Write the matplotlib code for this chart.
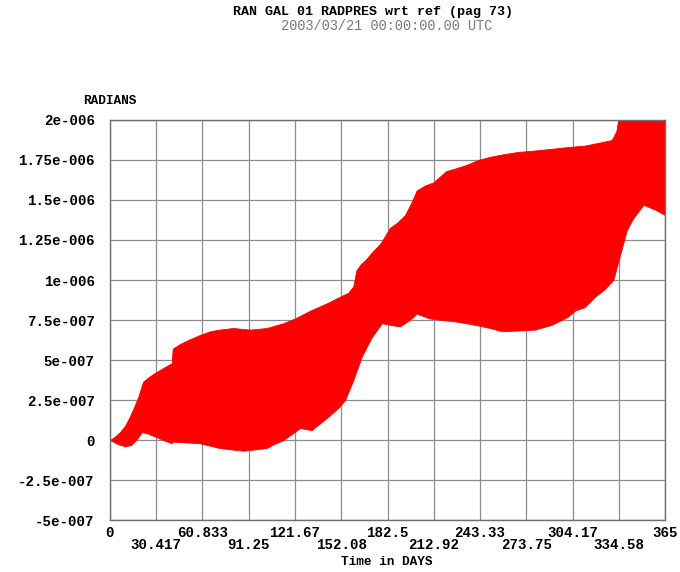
import matplotlib
matplotlib.use("Agg")
import matplotlib.pyplot as plt
import numpy as np

# ---- data (envelope of the oscillating RADPRES signal, units of 1e-7 rad) ----
days_upper = [0, 3, 6.6, 10, 13, 16, 18.6, 21.7, 25, 29.6, 35, 40.6, 41.2, 46, 51.5, 59,
              66, 72, 81, 92, 103, 114, 121.7, 132, 143, 150, 156.6, 160, 162, 165, 168,
              172, 178, 184, 189, 194, 198, 201.7, 207, 212.6, 221, 228, 234.6, 242,
              250, 258, 268, 280, 290.5, 300, 312, 320, 330, 333, 335, 340, 350, 365]
upper = [0, 0.2, 0.5, 0.9, 1.46, 2.1, 2.7, 3.64, 3.9, 4.2, 4.5, 4.8, 5.7, 6.0, 6.25, 6.56,
         6.8, 6.9, 7.0, 6.9, 7.0, 7.3, 7.6, 8.1, 8.56, 8.9, 9.2, 9.6, 10.6, 11.0, 11.25,
         11.7, 12.3, 13.25, 13.6, 14.06, 14.8, 15.6, 15.9, 16.1, 16.8, 17.0, 17.2, 17.5,
         17.7, 17.85, 18.0, 18.1, 18.2, 18.3, 18.4, 18.55, 18.75, 19.3, 20.5, 21.5, 22.5, 23.5]

days_lower = [0, 5, 10, 14, 18, 21, 25, 30, 35, 40.5, 41.2, 50, 59, 72, 87.6, 103, 108,
              114, 120, 125, 132.6, 143.6, 150, 154.6, 160, 165.5, 172, 178.7, 184,
              190.7, 197, 201.7, 210, 228, 240, 250, 257.6, 270, 279.5, 290.5, 301, 306,
              312, 319, 325, 331, 335.4, 339.8, 344, 350.8, 358.5, 365]
lower = [0, -0.25, -0.4, -0.3, 0.1, 0.5, 0.4, 0.2, 0.0, -0.2, -0.1, -0.15, -0.2, -0.5,
         -0.67, -0.5, -0.25, 0.0, 0.4, 0.75, 0.62, 1.46, 2.0, 2.5, 3.75, 5.2, 6.4, 7.3,
         7.2, 7.1, 7.5, 7.9, 7.6, 7.4, 7.2, 7.0, 6.8, 6.85, 6.9, 7.2, 7.7, 8.1, 8.3,
         8.96, 9.4, 10.0, 11.56, 13.1, 13.85, 14.7, 14.4, 14.06]

xtick_vals = [0, 30.417, 60.833, 91.25, 121.67, 152.08, 182.5, 212.92, 243.33,
              273.75, 304.17, 334.58, 365]
xtick_labels = ['0', '30.417', '60.833', '91.25', '121.67', '152.08', '182.5',
                '212.92', '243.33', '273.75', '304.17', '334.58', '365']
ytick_vals = [2e-6, 1.75e-6, 1.5e-6, 1.25e-6, 1e-6, 7.5e-7, 5e-7, 2.5e-7, 0, -2.5e-7, -5e-7]
ytick_labels = ['2e-006', '1.75e-006', '1.5e-006', '1.25e-006', '1e-006', '7.5e-007',
                '5e-007', '2.5e-007', '0', '-2.5e-007', '-5e-007']

title1 = "RAN GAL 01 RADPRES wrt ref (pag 73)"
title2 = "2003/03/21 00:00:00.00 UTC"
xlabel = "Time in DAYS"
ylabel = "RADIANS"

# ---- build a common polygon ----
xs = np.union1d(np.array(days_upper), np.array(days_lower))
up = np.interp(xs, days_upper, upper) * 1e-7
lo = np.interp(xs, days_lower, lower) * 1e-7

font = ['Liberation Mono', 'DejaVu Sans Mono']

fig = plt.figure(figsize=(6.8, 5.72), dpi=100)
ax = fig.add_axes([110/680, 1-520/572, 555/680, 400/572])

ax.fill_between(xs, lo, up, color='#ff0000', linewidth=0.6, edgecolor='#ff0000', zorder=3)

ax.set_xlim(0, 365)
ax.set_ylim(-5e-7, 2e-6)

grid_col = '#8c8c8c'
for v in xtick_vals:
    ax.axvline(v, color=grid_col, lw=0.9, zorder=1)
for v in ytick_vals:
    ax.axhline(v, color=grid_col, lw=0.9, zorder=1)
for s in ax.spines.values():
    s.set_color('#6e6e6e')
    s.set_linewidth(1.0)
    s.set_zorder(4)

# x tick labels in two staggered rows
ax.set_xticks(xtick_vals[0::2], xtick_labels[0::2])
ax.set_xticks(xtick_vals[1::2], xtick_labels[1::2], minor=True)
ax.tick_params(axis='x', which='major', length=0, pad=4)
ax.tick_params(axis='x', which='minor', length=0, pad=13)
ax.set_yticks(ytick_vals, ytick_labels)
ax.tick_params(axis='y', length=0, pad=11)
for lab in ax.get_xticklabels(which='both') + ax.get_yticklabels():
    lab.set_fontfamily(font)
    lab.set_fontweight('bold')
    lab.set_fontsize(10.2)

fig.text(373/680, 1-11.5/572, title1, ha='center', va='center', family=font,
         fontweight='bold', fontsize=9.6, color='black')
fig.text(387/680, 1-25.5/572, title2, ha='center', va='center', family=font,
         fontsize=9.8, color='#7a7a7a')
fig.text(387/680, 1-562/572, xlabel, ha='center', va='center', family=font,
         fontweight='bold', fontsize=9.2, color='black')
fig.text(110/680, 1-101/572, ylabel, ha='center', va='center', family=font,
         fontweight='bold', fontsize=9.2, color='black')

fig.savefig('out.png', dpi=100)
